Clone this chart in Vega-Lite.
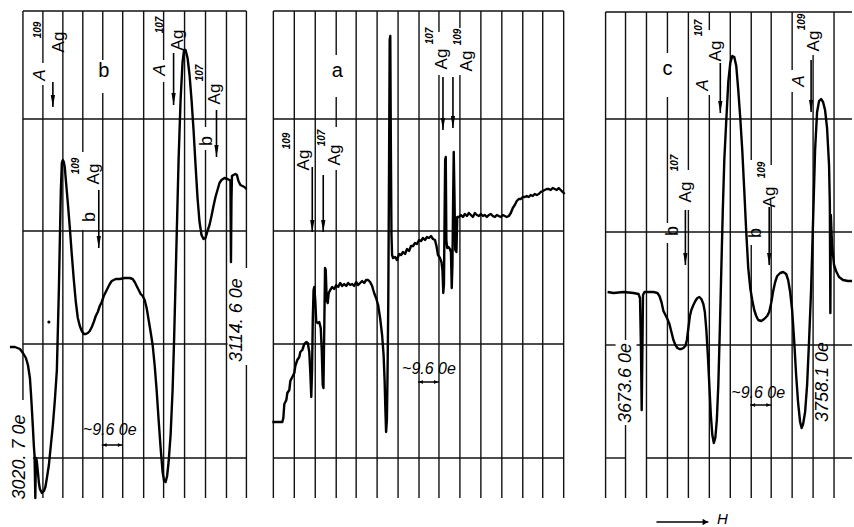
{
  "$schema": "https://vega.github.io/schema/vega-lite/v6.json",
  "width": 854,
  "height": 527,
  "padding": 0,
  "autosize": {"type": "fit", "contains": "padding"},
  "background": "white",
  "config": {"view": {"stroke": null}},
  "datasets": {
    "vgrid": [
      {"x": 23, "y": 11, "y2": 400}, {"x": 43, "y": 11, "y2": 63}, {"x": 43, "y": 85, "y2": 498},
      {"x": 63, "y": 11, "y2": 498}, {"x": 83, "y": 11, "y2": 152}, {"x": 83, "y": 230, "y2": 498},
      {"x": 103, "y": 11, "y2": 60}, {"x": 103, "y": 93, "y2": 498}, {"x": 123, "y": 11, "y2": 498},
      {"x": 144, "y": 11, "y2": 498}, {"x": 164, "y": 11, "y2": 60}, {"x": 164, "y": 82, "y2": 498},
      {"x": 185, "y": 11, "y2": 498}, {"x": 206, "y": 11, "y2": 127}, {"x": 206, "y": 150, "y2": 498},
      {"x": 227, "y": 11, "y2": 498}, {"x": 247, "y": 11, "y2": 268}, {"x": 247, "y": 365, "y2": 498},
      {"x": 274, "y": 11, "y2": 498}, {"x": 295, "y": 11, "y2": 498}, {"x": 316, "y": 11, "y2": 498},
      {"x": 337, "y": 11, "y2": 55}, {"x": 337, "y": 97, "y2": 127}, {"x": 337, "y": 170, "y2": 498},
      {"x": 357, "y": 11, "y2": 498}, {"x": 378, "y": 11, "y2": 498}, {"x": 399, "y": 11, "y2": 498},
      {"x": 420, "y": 11, "y2": 498}, {"x": 440, "y": 11, "y2": 32}, {"x": 440, "y": 75, "y2": 498},
      {"x": 461, "y": 11, "y2": 28}, {"x": 461, "y": 75, "y2": 498}, {"x": 482, "y": 11, "y2": 498},
      {"x": 503, "y": 11, "y2": 498}, {"x": 524, "y": 11, "y2": 498}, {"x": 544, "y": 11, "y2": 498},
      {"x": 565, "y": 11, "y2": 498},
      {"x": 607, "y": 12, "y2": 498}, {"x": 627, "y": 12, "y2": 340}, {"x": 627, "y": 425, "y2": 498},
      {"x": 648, "y": 12, "y2": 498}, {"x": 669, "y": 12, "y2": 53}, {"x": 669, "y": 97, "y2": 223},
      {"x": 669, "y": 243, "y2": 498}, {"x": 690, "y": 12, "y2": 170}, {"x": 690, "y": 210, "y2": 498},
      {"x": 711, "y": 12, "y2": 30}, {"x": 711, "y": 95, "y2": 498}, {"x": 732, "y": 12, "y2": 498},
      {"x": 753, "y": 12, "y2": 160}, {"x": 753, "y": 245, "y2": 498}, {"x": 773, "y": 12, "y2": 165},
      {"x": 773, "y": 205, "y2": 498}, {"x": 794, "y": 12, "y2": 70}, {"x": 794, "y": 92, "y2": 498},
      {"x": 815, "y": 55, "y2": 498}, {"x": 836, "y": 12, "y2": 498}
    ],
    "hgrid": [
      {"y": 11, "x": 23, "x2": 247}, {"y": 119, "x": 23, "x2": 247}, {"y": 231, "x": 23, "x2": 247},
      {"y": 344, "x": 23, "x2": 228}, {"y": 458, "x": 33, "x2": 247},
      {"y": 11, "x": 274, "x2": 565}, {"y": 119, "x": 274, "x2": 565}, {"y": 231, "x": 274, "x2": 565},
      {"y": 344, "x": 274, "x2": 565}, {"y": 458, "x": 274, "x2": 565},
      {"y": 12, "x": 607, "x2": 854}, {"y": 119, "x": 607, "x2": 854}, {"y": 232, "x": 607, "x2": 854},
      {"y": 345, "x": 607, "x2": 617}, {"y": 345, "x": 638, "x2": 854},
      {"y": 458, "x": 607, "x2": 627}, {"y": 458, "x": 648, "x2": 854}
    ],
    "spec": [
      {"s": "b", "x": 10, "y": 347}, {"s": "b", "x": 15, "y": 347}, {"s": "b", "x": 20, "y": 349}, {"s": "b", "x": 23, "y": 353},
      {"s": "b", "x": 26, "y": 358}, {"s": "b", "x": 28, "y": 365}, {"s": "b", "x": 30, "y": 378}, {"s": "b", "x": 31, "y": 393},
      {"s": "b", "x": 32, "y": 410}, {"s": "b", "x": 33, "y": 428}, {"s": "b", "x": 34, "y": 447}, {"s": "b", "x": 34.6, "y": 455},
      {"s": "b", "x": 35, "y": 475}, {"s": "b", "x": 35.4, "y": 498}, {"s": "b", "x": 35.8, "y": 470}, {"s": "b", "x": 36.3, "y": 458},
      {"s": "b", "x": 37, "y": 462}, {"s": "b", "x": 38, "y": 472}, {"s": "b", "x": 39, "y": 483}, {"s": "b", "x": 40, "y": 489},
      {"s": "b", "x": 42, "y": 493}, {"s": "b", "x": 44, "y": 491}, {"s": "b", "x": 45.5, "y": 487}, {"s": "b", "x": 47, "y": 478},
      {"s": "b", "x": 49, "y": 465}, {"s": "b", "x": 51, "y": 445}, {"s": "b", "x": 53, "y": 425}, {"s": "b", "x": 55, "y": 400},
      {"s": "b", "x": 57, "y": 370}, {"s": "b", "x": 58, "y": 330}, {"s": "b", "x": 59, "y": 290}, {"s": "b", "x": 60, "y": 240},
      {"s": "b", "x": 61, "y": 190}, {"s": "b", "x": 62, "y": 163}, {"s": "b", "x": 63, "y": 160}, {"s": "b", "x": 64, "y": 162},
      {"s": "b", "x": 65, "y": 168}, {"s": "b", "x": 66, "y": 180}, {"s": "b", "x": 68, "y": 203}, {"s": "b", "x": 70, "y": 228},
      {"s": "b", "x": 72, "y": 255}, {"s": "b", "x": 74, "y": 280}, {"s": "b", "x": 76, "y": 302}, {"s": "b", "x": 78, "y": 318},
      {"s": "b", "x": 80, "y": 326}, {"s": "b", "x": 82, "y": 331}, {"s": "b", "x": 84, "y": 334}, {"s": "b", "x": 86, "y": 334},
      {"s": "b", "x": 88, "y": 333}, {"s": "b", "x": 90, "y": 331}, {"s": "b", "x": 92, "y": 327}, {"s": "b", "x": 94, "y": 322},
      {"s": "b", "x": 96, "y": 316}, {"s": "b", "x": 98, "y": 312}, {"s": "b", "x": 100, "y": 306}, {"s": "b", "x": 102, "y": 302},
      {"s": "b", "x": 104, "y": 296}, {"s": "b", "x": 106, "y": 292}, {"s": "b", "x": 108, "y": 288}, {"s": "b", "x": 110, "y": 284},
      {"s": "b", "x": 112, "y": 281}, {"s": "b", "x": 116, "y": 279}, {"s": "b", "x": 120, "y": 279}, {"s": "b", "x": 125, "y": 278},
      {"s": "b", "x": 130, "y": 278}, {"s": "b", "x": 133, "y": 279}, {"s": "b", "x": 135, "y": 282}, {"s": "b", "x": 137, "y": 286},
      {"s": "b", "x": 139, "y": 290}, {"s": "b", "x": 141, "y": 294}, {"s": "b", "x": 143, "y": 296}, {"s": "b", "x": 145, "y": 300},
      {"s": "b", "x": 147, "y": 308}, {"s": "b", "x": 149, "y": 320}, {"s": "b", "x": 151, "y": 332}, {"s": "b", "x": 153, "y": 345},
      {"s": "b", "x": 155, "y": 365}, {"s": "b", "x": 157, "y": 390}, {"s": "b", "x": 159, "y": 420}, {"s": "b", "x": 161, "y": 448},
      {"s": "b", "x": 163, "y": 472}, {"s": "b", "x": 164.5, "y": 481}, {"s": "b", "x": 166, "y": 482}, {"s": "b", "x": 167.5, "y": 476},
      {"s": "b", "x": 169, "y": 462}, {"s": "b", "x": 171, "y": 435}, {"s": "b", "x": 173, "y": 390}, {"s": "b", "x": 174.5, "y": 340},
      {"s": "b", "x": 176, "y": 280}, {"s": "b", "x": 177.5, "y": 220}, {"s": "b", "x": 179, "y": 160}, {"s": "b", "x": 181, "y": 100},
      {"s": "b", "x": 183, "y": 62}, {"s": "b", "x": 184.5, "y": 50}, {"s": "b", "x": 186, "y": 50}, {"s": "b", "x": 188, "y": 58},
      {"s": "b", "x": 190, "y": 75}, {"s": "b", "x": 192, "y": 100}, {"s": "b", "x": 194, "y": 130}, {"s": "b", "x": 196, "y": 165},
      {"s": "b", "x": 198, "y": 198}, {"s": "b", "x": 200, "y": 222}, {"s": "b", "x": 202, "y": 235}, {"s": "b", "x": 204, "y": 239},
      {"s": "b", "x": 206, "y": 238}, {"s": "b", "x": 208, "y": 231}, {"s": "b", "x": 210, "y": 225}, {"s": "b", "x": 212, "y": 216},
      {"s": "b", "x": 214, "y": 206}, {"s": "b", "x": 216, "y": 197}, {"s": "b", "x": 218, "y": 190}, {"s": "b", "x": 220, "y": 183},
      {"s": "b", "x": 222, "y": 180}, {"s": "b", "x": 225, "y": 178}, {"s": "b", "x": 228, "y": 179}, {"s": "b", "x": 230, "y": 180},
      {"s": "b", "x": 231, "y": 181}, {"s": "b", "x": 231.5, "y": 262}, {"s": "b", "x": 232, "y": 200}, {"s": "b", "x": 232.5, "y": 176},
      {"s": "b", "x": 234, "y": 175}, {"s": "b", "x": 236, "y": 174}, {"s": "b", "x": 237.5, "y": 175}, {"s": "b", "x": 239, "y": 181},
      {"s": "b", "x": 241, "y": 185}, {"s": "b", "x": 243, "y": 186}, {"s": "b", "x": 245, "y": 187}, {"s": "b", "x": 247, "y": 189},

      {"s": "a", "x": 273, "y": 422}, {"s": "a", "x": 283, "y": 422}, {"s": "a", "x": 284, "y": 418}, {"s": "a", "x": 285, "y": 404},
      {"s": "a", "x": 287, "y": 400}, {"s": "a", "x": 288, "y": 393}, {"s": "a", "x": 290, "y": 390}, {"s": "a", "x": 291, "y": 381},
      {"s": "a", "x": 293, "y": 377}, {"s": "a", "x": 295, "y": 373}, {"s": "a", "x": 296, "y": 366}, {"s": "a", "x": 298, "y": 360},
      {"s": "a", "x": 300, "y": 357}, {"s": "a", "x": 301, "y": 352}, {"s": "a", "x": 303, "y": 350}, {"s": "a", "x": 305, "y": 344},
      {"s": "a", "x": 307, "y": 342}, {"s": "a", "x": 308.5, "y": 343}, {"s": "a", "x": 310, "y": 352}, {"s": "a", "x": 311, "y": 372},
      {"s": "a", "x": 312, "y": 397}, {"s": "a", "x": 312.8, "y": 370}, {"s": "a", "x": 313.5, "y": 320}, {"s": "a", "x": 314.3, "y": 290},
      {"s": "a", "x": 315, "y": 287}, {"s": "a", "x": 316, "y": 300}, {"s": "a", "x": 317, "y": 322}, {"s": "a", "x": 318.5, "y": 323},
      {"s": "a", "x": 320, "y": 322}, {"s": "a", "x": 321.5, "y": 328}, {"s": "a", "x": 322.5, "y": 350}, {"s": "a", "x": 323.5, "y": 385},
      {"s": "a", "x": 324.2, "y": 388}, {"s": "a", "x": 325, "y": 330}, {"s": "a", "x": 325.8, "y": 268}, {"s": "a", "x": 326.5, "y": 270},
      {"s": "a", "x": 327.5, "y": 300}, {"s": "a", "x": 328.5, "y": 303}, {"s": "a", "x": 329.5, "y": 293}, {"s": "a", "x": 331, "y": 290},
      {"s": "a", "x": 333, "y": 287}, {"s": "a", "x": 335, "y": 289}, {"s": "a", "x": 337, "y": 285}, {"s": "a", "x": 339, "y": 287},
      {"s": "a", "x": 341, "y": 283}, {"s": "a", "x": 343, "y": 286}, {"s": "a", "x": 345, "y": 284}, {"s": "a", "x": 347, "y": 286},
      {"s": "a", "x": 349, "y": 283}, {"s": "a", "x": 351, "y": 285}, {"s": "a", "x": 353, "y": 284}, {"s": "a", "x": 355, "y": 286},
      {"s": "a", "x": 357, "y": 282}, {"s": "a", "x": 359, "y": 285}, {"s": "a", "x": 361, "y": 283}, {"s": "a", "x": 363, "y": 281},
      {"s": "a", "x": 365, "y": 283}, {"s": "a", "x": 367, "y": 280}, {"s": "a", "x": 369, "y": 280}, {"s": "a", "x": 371, "y": 282},
      {"s": "a", "x": 373, "y": 286}, {"s": "a", "x": 375, "y": 293}, {"s": "a", "x": 377, "y": 298}, {"s": "a", "x": 379, "y": 305},
      {"s": "a", "x": 381, "y": 318}, {"s": "a", "x": 383, "y": 335}, {"s": "a", "x": 384.5, "y": 355}, {"s": "a", "x": 385.5, "y": 380},
      {"s": "a", "x": 386.3, "y": 410}, {"s": "a", "x": 387, "y": 432}, {"s": "a", "x": 387.8, "y": 420}, {"s": "a", "x": 388.5, "y": 370},
      {"s": "a", "x": 389.2, "y": 300}, {"s": "a", "x": 390, "y": 160}, {"s": "a", "x": 390.6, "y": 40}, {"s": "a", "x": 391.2, "y": 36},
      {"s": "a", "x": 391.8, "y": 150}, {"s": "a", "x": 392.4, "y": 235}, {"s": "a", "x": 393, "y": 255}, {"s": "a", "x": 394, "y": 258},
      {"s": "a", "x": 396, "y": 257}, {"s": "a", "x": 398, "y": 260}, {"s": "a", "x": 400, "y": 254}, {"s": "a", "x": 402, "y": 255},
      {"s": "a", "x": 404, "y": 252}, {"s": "a", "x": 406, "y": 254}, {"s": "a", "x": 408, "y": 249}, {"s": "a", "x": 410, "y": 251},
      {"s": "a", "x": 412, "y": 246}, {"s": "a", "x": 414, "y": 246}, {"s": "a", "x": 416, "y": 243}, {"s": "a", "x": 418, "y": 244},
      {"s": "a", "x": 420, "y": 240}, {"s": "a", "x": 422, "y": 241}, {"s": "a", "x": 424, "y": 238}, {"s": "a", "x": 426, "y": 240},
      {"s": "a", "x": 428, "y": 237}, {"s": "a", "x": 430, "y": 238}, {"s": "a", "x": 432, "y": 236}, {"s": "a", "x": 434, "y": 239},
      {"s": "a", "x": 436, "y": 240}, {"s": "a", "x": 437.5, "y": 246}, {"s": "a", "x": 439, "y": 255}, {"s": "a", "x": 441, "y": 258},
      {"s": "a", "x": 442.5, "y": 262}, {"s": "a", "x": 443.5, "y": 270}, {"s": "a", "x": 444.3, "y": 293}, {"s": "a", "x": 445, "y": 285},
      {"s": "a", "x": 445.6, "y": 220}, {"s": "a", "x": 446.2, "y": 160}, {"s": "a", "x": 446.8, "y": 157}, {"s": "a", "x": 447.4, "y": 240},
      {"s": "a", "x": 448.2, "y": 248}, {"s": "a", "x": 449.5, "y": 247}, {"s": "a", "x": 451, "y": 249}, {"s": "a", "x": 452, "y": 252},
      {"s": "a", "x": 452.8, "y": 288}, {"s": "a", "x": 453.5, "y": 265}, {"s": "a", "x": 454.2, "y": 200}, {"s": "a", "x": 454.8, "y": 152},
      {"s": "a", "x": 455.6, "y": 200}, {"s": "a", "x": 456.3, "y": 250}, {"s": "a", "x": 457.5, "y": 252}, {"s": "a", "x": 458.3, "y": 217},
      {"s": "a", "x": 460, "y": 217}, {"s": "a", "x": 462, "y": 215}, {"s": "a", "x": 464, "y": 217}, {"s": "a", "x": 466, "y": 214},
      {"s": "a", "x": 468, "y": 216}, {"s": "a", "x": 470, "y": 213}, {"s": "a", "x": 472, "y": 215}, {"s": "a", "x": 474, "y": 217},
      {"s": "a", "x": 476, "y": 213}, {"s": "a", "x": 478, "y": 215}, {"s": "a", "x": 480, "y": 216}, {"s": "a", "x": 482, "y": 214},
      {"s": "a", "x": 484, "y": 216}, {"s": "a", "x": 486, "y": 215}, {"s": "a", "x": 488, "y": 217}, {"s": "a", "x": 490, "y": 215},
      {"s": "a", "x": 492, "y": 214}, {"s": "a", "x": 494, "y": 216}, {"s": "a", "x": 496, "y": 217}, {"s": "a", "x": 498, "y": 215},
      {"s": "a", "x": 500, "y": 216}, {"s": "a", "x": 502, "y": 217}, {"s": "a", "x": 504, "y": 215}, {"s": "a", "x": 506, "y": 216},
      {"s": "a", "x": 508, "y": 217}, {"s": "a", "x": 510, "y": 216}, {"s": "a", "x": 512, "y": 213}, {"s": "a", "x": 514, "y": 208},
      {"s": "a", "x": 516, "y": 205}, {"s": "a", "x": 518, "y": 201}, {"s": "a", "x": 520, "y": 199}, {"s": "a", "x": 522, "y": 199},
      {"s": "a", "x": 524, "y": 197}, {"s": "a", "x": 526, "y": 197}, {"s": "a", "x": 528, "y": 196}, {"s": "a", "x": 530, "y": 197},
      {"s": "a", "x": 532, "y": 195}, {"s": "a", "x": 534, "y": 196}, {"s": "a", "x": 536, "y": 194}, {"s": "a", "x": 538, "y": 195},
      {"s": "a", "x": 540, "y": 194}, {"s": "a", "x": 542, "y": 192}, {"s": "a", "x": 544, "y": 191}, {"s": "a", "x": 546, "y": 190},
      {"s": "a", "x": 548, "y": 189}, {"s": "a", "x": 550, "y": 189}, {"s": "a", "x": 552, "y": 190}, {"s": "a", "x": 554, "y": 188},
      {"s": "a", "x": 556, "y": 189}, {"s": "a", "x": 558, "y": 190}, {"s": "a", "x": 560, "y": 188}, {"s": "a", "x": 562, "y": 190},
      {"s": "a", "x": 564, "y": 192}, {"s": "a", "x": 566, "y": 194},

      {"s": "c", "x": 609, "y": 292}, {"s": "c", "x": 615, "y": 293}, {"s": "c", "x": 625, "y": 292}, {"s": "c", "x": 635, "y": 293},
      {"s": "c", "x": 640, "y": 294}, {"s": "c", "x": 641.5, "y": 298}, {"s": "c", "x": 642.5, "y": 350}, {"s": "c", "x": 643.2, "y": 410},
      {"s": "c", "x": 643.8, "y": 360}, {"s": "c", "x": 644.5, "y": 295}, {"s": "c", "x": 646, "y": 292}, {"s": "c", "x": 650, "y": 292},
      {"s": "c", "x": 655, "y": 292}, {"s": "c", "x": 659, "y": 293}, {"s": "c", "x": 661, "y": 296}, {"s": "c", "x": 663, "y": 302},
      {"s": "c", "x": 665, "y": 311}, {"s": "c", "x": 667, "y": 315}, {"s": "c", "x": 669, "y": 319}, {"s": "c", "x": 671, "y": 324},
      {"s": "c", "x": 673, "y": 332}, {"s": "c", "x": 675, "y": 340}, {"s": "c", "x": 677, "y": 345}, {"s": "c", "x": 679, "y": 348},
      {"s": "c", "x": 681, "y": 349}, {"s": "c", "x": 683, "y": 349}, {"s": "c", "x": 685, "y": 348}, {"s": "c", "x": 687, "y": 346},
      {"s": "c", "x": 688.5, "y": 340}, {"s": "c", "x": 690, "y": 328}, {"s": "c", "x": 691.5, "y": 316}, {"s": "c", "x": 693, "y": 310},
      {"s": "c", "x": 695, "y": 305}, {"s": "c", "x": 697, "y": 301}, {"s": "c", "x": 699, "y": 298}, {"s": "c", "x": 701, "y": 297},
      {"s": "c", "x": 703, "y": 299}, {"s": "c", "x": 705, "y": 304}, {"s": "c", "x": 706.5, "y": 312}, {"s": "c", "x": 708, "y": 330},
      {"s": "c", "x": 709.5, "y": 355}, {"s": "c", "x": 711, "y": 385}, {"s": "c", "x": 712.5, "y": 415}, {"s": "c", "x": 714, "y": 435},
      {"s": "c", "x": 715.5, "y": 443}, {"s": "c", "x": 717, "y": 438}, {"s": "c", "x": 718.5, "y": 420}, {"s": "c", "x": 720, "y": 385},
      {"s": "c", "x": 721.5, "y": 330}, {"s": "c", "x": 723, "y": 270}, {"s": "c", "x": 724.5, "y": 210}, {"s": "c", "x": 726, "y": 160},
      {"s": "c", "x": 728, "y": 120}, {"s": "c", "x": 730, "y": 82}, {"s": "c", "x": 732, "y": 63}, {"s": "c", "x": 734, "y": 56},
      {"s": "c", "x": 736, "y": 57}, {"s": "c", "x": 738, "y": 66}, {"s": "c", "x": 740, "y": 90}, {"s": "c", "x": 742, "y": 118},
      {"s": "c", "x": 744, "y": 150}, {"s": "c", "x": 746, "y": 190}, {"s": "c", "x": 748, "y": 232}, {"s": "c", "x": 750, "y": 268},
      {"s": "c", "x": 752, "y": 288}, {"s": "c", "x": 754, "y": 300}, {"s": "c", "x": 756, "y": 310}, {"s": "c", "x": 758, "y": 316},
      {"s": "c", "x": 760, "y": 320}, {"s": "c", "x": 763, "y": 321}, {"s": "c", "x": 766, "y": 319}, {"s": "c", "x": 769, "y": 316},
      {"s": "c", "x": 771, "y": 312}, {"s": "c", "x": 773, "y": 303}, {"s": "c", "x": 775, "y": 291}, {"s": "c", "x": 777, "y": 282},
      {"s": "c", "x": 779, "y": 276}, {"s": "c", "x": 782, "y": 273}, {"s": "c", "x": 785, "y": 272}, {"s": "c", "x": 788, "y": 274},
      {"s": "c", "x": 790, "y": 280}, {"s": "c", "x": 792, "y": 292}, {"s": "c", "x": 794, "y": 310}, {"s": "c", "x": 796, "y": 340},
      {"s": "c", "x": 798, "y": 375}, {"s": "c", "x": 800, "y": 403}, {"s": "c", "x": 802, "y": 422}, {"s": "c", "x": 803.5, "y": 428},
      {"s": "c", "x": 805, "y": 424}, {"s": "c", "x": 807, "y": 412}, {"s": "c", "x": 809, "y": 385}, {"s": "c", "x": 811, "y": 340},
      {"s": "c", "x": 813, "y": 290}, {"s": "c", "x": 815, "y": 220}, {"s": "c", "x": 817, "y": 150}, {"s": "c", "x": 819, "y": 112},
      {"s": "c", "x": 821, "y": 101}, {"s": "c", "x": 823, "y": 99}, {"s": "c", "x": 825, "y": 102}, {"s": "c", "x": 827, "y": 110},
      {"s": "c", "x": 829, "y": 128}, {"s": "c", "x": 831, "y": 165}, {"s": "c", "x": 831.8, "y": 205}, {"s": "c", "x": 832.3, "y": 313},
      {"s": "c", "x": 832.8, "y": 215}, {"s": "c", "x": 834, "y": 245}, {"s": "c", "x": 836, "y": 265}, {"s": "c", "x": 838, "y": 271},
      {"s": "c", "x": 841, "y": 277}, {"s": "c", "x": 845, "y": 280}, {"s": "c", "x": 850, "y": 281}, {"s": "c", "x": 854, "y": 281}
    ],
    "arrows": [
      {"x": 53, "y": 82, "y2": 107}, {"x": 174, "y": 53, "y2": 105}, {"x": 99, "y": 190, "y2": 248}, {"x": 217, "y": 110, "y2": 157},
      {"x": 313, "y": 167, "y2": 232}, {"x": 324, "y": 175, "y2": 232}, {"x": 444, "y": 77, "y2": 130}, {"x": 454, "y": 77, "y2": 128},
      {"x": 722, "y": 63, "y2": 113}, {"x": 813, "y": 60, "y2": 112}, {"x": 687, "y": 210, "y2": 265}, {"x": 771, "y": 207, "y2": 265}
    ],
    "ag": [
      {"x": 59, "y": 42, "t": "Ag"}, {"x": 94, "y": 174, "t": "Ag"}, {"x": 178, "y": 40, "t": "Ag"}, {"x": 216, "y": 94, "t": "Ag"},
      {"x": 305, "y": 160, "t": "Ag"}, {"x": 336, "y": 155, "t": "Ag"}, {"x": 443, "y": 59, "t": "Ag"}, {"x": 468, "y": 61, "t": "Ag"},
      {"x": 718, "y": 51, "t": "Ag"}, {"x": 816, "y": 41, "t": "Ag"}, {"x": 688, "y": 192, "t": "Ag"}, {"x": 772, "y": 197, "t": "Ag"}
    ],
    "sup": [
      {"x": 38, "y": 30, "t": "109"}, {"x": 76, "y": 166, "t": "109"}, {"x": 160, "y": 25, "t": "107"}, {"x": 200, "y": 73, "t": "107"},
      {"x": 288, "y": 141, "t": "109"}, {"x": 323, "y": 138, "t": "107"}, {"x": 431, "y": 36, "t": "107"}, {"x": 459, "y": 37, "t": "109"},
      {"x": 701, "y": 28, "t": "107"}, {"x": 804, "y": 22, "t": "109"}, {"x": 677, "y": 163, "t": "107"}, {"x": 764, "y": 170, "t": "109"}
    ],
    "alab": [
      {"x": 40, "y": 75, "t": "A"}, {"x": 160, "y": 70, "t": "A"}, {"x": 705, "y": 85, "t": "A"}, {"x": 801, "y": 81, "t": "A"}
    ],
    "blab": [
      {"x": 90, "y": 217, "t": "b"}, {"x": 207, "y": 141, "t": "b"}, {"x": 675, "y": 231, "t": "b"}, {"x": 758, "y": 233, "t": "b"}
    ],
    "panel": [
      {"x": 104, "y": 71, "t": "b"}, {"x": 338, "y": 71, "t": "a"}, {"x": 669, "y": 69, "t": "c"}
    ],
    "field": [
      {"x": 20, "y": 457, "t": "3020. 7 0e"}, {"x": 238, "y": 320, "t": "3114. 6 0e"},
      {"x": 627, "y": 383, "t": "3673.6 0e"}, {"x": 825, "y": 382, "t": "3758.1 0e"}
    ],
    "step": [
      {"x": 110, "y": 430, "t": "~9.6 0e"}, {"x": 430, "y": 369, "t": "~9.6 0e"}, {"x": 760, "y": 393, "t": "~9.6 0e"}
    ],
    "span": [
      {"x": 102, "x2": 123, "y": 445}, {"x": 419, "x2": 440, "y": 382}, {"x": 752, "x2": 773, "y": 405}
    ],
    "harrow": [{"x": 658, "x2": 710, "y": 522}],
    "hlab": [{"x": 724, "y": 519, "t": "H"}],
    "dot": [{"x": 49, "y": 322}]
  },
  "encoding": {
    "x": {"field": "x", "type": "quantitative", "scale": {"domain": [0, 854], "nice": false, "zero": false}, "axis": null},
    "y": {"field": "y", "type": "quantitative", "scale": {"domain": [0, 527], "nice": false, "zero": false, "reverse": true}, "axis": null}
  },
  "layer": [
    {"data": {"name": "vgrid"}, "mark": {"type": "rule", "color": "#111", "strokeWidth": 1.4}, "encoding": {"y2": {"field": "y2"}}},
    {"data": {"name": "hgrid"}, "mark": {"type": "rule", "color": "#111", "strokeWidth": 1.4}, "encoding": {"x2": {"field": "x2"}}},
    {"data": {"name": "spec"}, "mark": {"type": "line", "color": "#000", "strokeWidth": 2.4, "strokeJoin": "round"}, "encoding": {"detail": {"field": "s"}}},
    {"data": {"name": "arrows"}, "mark": {"type": "rule", "color": "#000", "strokeWidth": 1.6}, "encoding": {"y2": {"field": "y2"}}},
    {"data": {"name": "arrows"}, "mark": {"type": "point", "shape": "M-0.35,-1L0.35,-1L0,1Z", "filled": true, "color": "#000", "opacity": 1, "size": 150, "yOffset": -6},
     "encoding": {"y": {"field": "y2", "type": "quantitative"}}},
    {"data": {"name": "span"}, "mark": {"type": "rule", "color": "#000", "strokeWidth": 1.5}, "encoding": {"x2": {"field": "x2"}}},
    {"data": {"name": "span"}, "mark": {"type": "point", "shape": "triangle-left", "filled": true, "color": "#000", "opacity": 1, "size": 18, "xOffset": 3}},
    {"data": {"name": "span"}, "mark": {"type": "point", "shape": "triangle-right", "filled": true, "color": "#000", "opacity": 1, "size": 18, "xOffset": -3},
     "encoding": {"x": {"field": "x2", "type": "quantitative"}}},
    {"data": {"name": "harrow"}, "mark": {"type": "rule", "color": "#000", "strokeWidth": 1.6}, "encoding": {"x2": {"field": "x2"}}},
    {"data": {"name": "harrow"}, "mark": {"type": "point", "shape": "triangle-right", "filled": true, "color": "#000", "opacity": 1, "size": 40, "xOffset": -3},
     "encoding": {"x": {"field": "x2", "type": "quantitative"}}},
    {"data": {"name": "dot"}, "mark": {"type": "point", "filled": true, "color": "#000", "opacity": 1, "size": 10}},
    {"data": {"name": "ag"}, "mark": {"type": "text", "angle": 270, "font": "Liberation Sans", "fontSize": 17, "align": "center", "baseline": "middle", "color": "#000"},
     "encoding": {"text": {"field": "t"}}},
    {"data": {"name": "sup"}, "mark": {"type": "text", "angle": 270, "font": "Liberation Sans", "fontStyle": "italic", "fontWeight": "bold", "fontSize": 10, "align": "center", "baseline": "middle", "color": "#000"},
     "encoding": {"text": {"field": "t"}}},
    {"data": {"name": "alab"}, "mark": {"type": "text", "angle": 270, "font": "Liberation Sans", "fontStyle": "italic", "fontSize": 17, "align": "center", "baseline": "middle", "color": "#000"},
     "encoding": {"text": {"field": "t"}}},
    {"data": {"name": "blab"}, "mark": {"type": "text", "angle": 270, "font": "Liberation Sans", "fontSize": 18, "align": "center", "baseline": "middle", "color": "#000"},
     "encoding": {"text": {"field": "t"}}},
    {"data": {"name": "panel"}, "mark": {"type": "text", "font": "Liberation Sans", "fontSize": 20, "align": "center", "baseline": "middle", "color": "#000"},
     "encoding": {"text": {"field": "t"}}},
    {"data": {"name": "field"}, "mark": {"type": "text", "angle": 270, "font": "Liberation Sans", "fontStyle": "italic", "fontSize": 18, "align": "center", "baseline": "middle", "color": "#000"},
     "encoding": {"text": {"field": "t"}}},
    {"data": {"name": "step"}, "mark": {"type": "text", "font": "Liberation Sans", "fontStyle": "italic", "fontSize": 16, "align": "center", "baseline": "middle", "color": "#000"},
     "encoding": {"text": {"field": "t"}}},
    {"data": {"name": "hlab"}, "mark": {"type": "text", "font": "Liberation Sans", "fontStyle": "italic", "fontSize": 15, "align": "center", "baseline": "middle", "color": "#000"},
     "encoding": {"text": {"field": "t"}}}
  ]
}
